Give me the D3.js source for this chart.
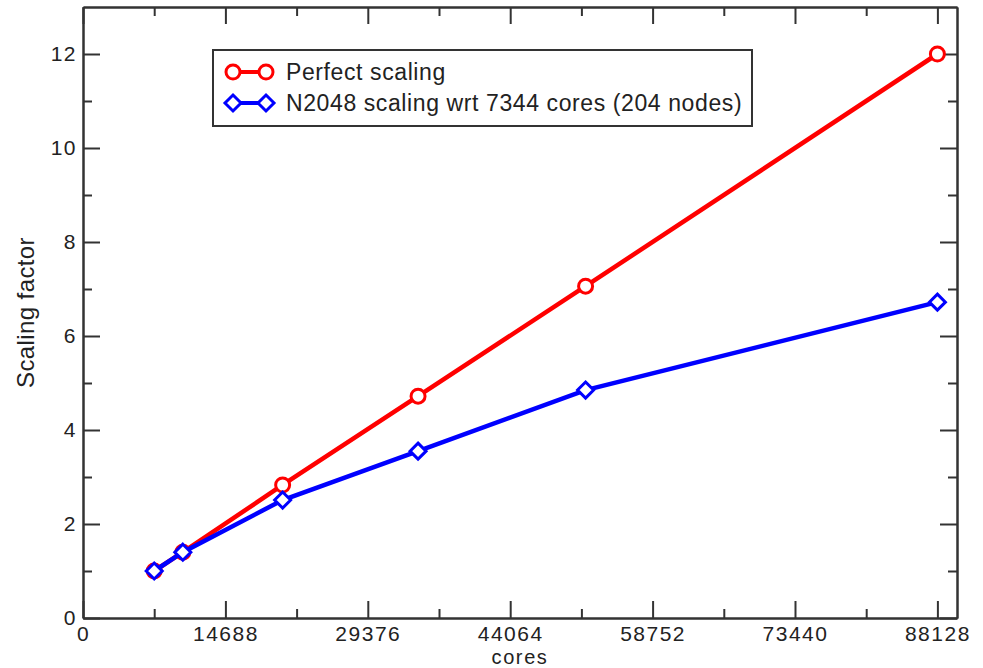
<!DOCTYPE html>
<html>
<head>
<meta charset="utf-8">
<script src="https://cdn.jsdelivr.net/npm/d3@7"></script>
<style>
  body { margin: 0; background: #fff; }
  svg { display: block; font-family: "Liberation Sans", Arial, sans-serif; }
  .axis path, .axis line { stroke: #333; stroke-width: 2px; }
  .axis text { font-size: 21px; letter-spacing: 1.5px; fill: #222; }
</style>
</head>
<body>
<svg id="chart" width="983" height="668"></svg>
<script>
// cores used in each run
var cores = [7344, 10296, 20592, 34560, 51840, 88128];
// ideal speed-up relative to 7344 cores
var perfect = [1, 1.4, 2.83, 4.72, 7.06, 12];
// measured speed-up of N2048
var measured = [1, 1.4, 2.51, 3.55, 4.85, 6.72];

var xMajor = [0, 14688, 29376, 44064, 58752, 73440, 88128];
var xMinor = [7344, 22032, 36720, 51408, 66096, 80784];
var yMajor = [0, 2, 4, 6, 8, 10, 12];
var yMinor = [1, 3, 5, 7, 9, 11];

var series = [
  { name: "Perfect scaling", values: perfect, color: "#ff0000", symbol: "circle" },
  { name: "N2048 scaling wrt 7344 cores (204 nodes)", values: measured, color: "#0000ff", symbol: "diamond" }
];

var svg = d3.select("#chart");
var margin = { left: 83, top: 7, right: 26, bottom: 50 };
var width = +svg.attr("width") - margin.left - margin.right;
var height = +svg.attr("height") - margin.top - margin.bottom;

var x = d3.scaleLinear().domain([0, 90150]).range([0, width]);
var y = d3.scaleLinear().domain([0, 13]).range([height, 0]);

var g = svg.append("g").attr("transform", "translate(" + margin.left + "," + margin.top + ")");

// minor ticks first, then major ticks (all pointing inward)
function addAxis(axis, tx, ty, hideText) {
  var a = g.append("g").attr("class", "axis")
    .attr("transform", "translate(" + tx + "," + ty + ")")
    .call(axis);
  if (hideText) a.selectAll("text").remove();
  return a;
}

addAxis(d3.axisBottom(x).tickValues(xMinor).tickSize(-9).tickSizeOuter(0).tickFormat(""), 0, height, true);
addAxis(d3.axisTop(x).tickValues(xMinor).tickSize(-9).tickSizeOuter(0).tickFormat(""), 0, 0, true);
addAxis(d3.axisLeft(y).tickValues(yMinor).tickSize(-9).tickSizeOuter(0).tickFormat(""), 0, 0, true);
addAxis(d3.axisRight(y).tickValues(yMinor).tickSize(-9).tickSizeOuter(0).tickFormat(""), width, 0, true);

addAxis(d3.axisBottom(x).tickValues(xMajor).tickSize(-17).tickSizeOuter(0).tickPadding(8).tickFormat(d3.format("d")), 0, height, false);
addAxis(d3.axisTop(x).tickValues(xMajor).tickSize(-17).tickSizeOuter(0).tickFormat(""), 0, 0, true);
addAxis(d3.axisLeft(y).tickValues(yMajor).tickSize(-17).tickSizeOuter(0).tickPadding(6).tickFormat(d3.format("d")), 0, 0, false);
addAxis(d3.axisRight(y).tickValues(yMajor).tickSize(-17).tickSizeOuter(0).tickFormat(""), width, 0, true);

// axis titles
svg.append("text")
  .attr("x", margin.left + width / 2)
  .attr("y", 663.6)
  .attr("text-anchor", "middle")
  .style("font-size", "20px")
  .style("letter-spacing", "1.6px")
  .style("fill", "#222")
  .text("cores");

svg.append("text")
  .attr("transform", "translate(34," + (margin.top + height / 2) + ") rotate(-90)")
  .attr("text-anchor", "middle")
  .style("font-size", "24px")
  .style("letter-spacing", "0.4px")
  .style("fill", "#222")
  .text("Scaling factor");

var line = d3.line()
  .x(function(d, i) { return x(cores[i]); })
  .y(function(d) { return y(d); });

function drawSymbol(sel, kind, color) {
  if (kind === "circle") {
    sel.append("circle").attr("r", 7)
      .attr("fill", "#fff").attr("stroke", color).attr("stroke-width", 3);
  } else {
    sel.append("path").attr("d", "M0,-8L8,0L0,8L-8,0Z")
      .attr("fill", "#fff").attr("stroke", color).attr("stroke-width", 3);
  }
}

series.forEach(function(s) {
  g.append("path")
    .datum(s.values)
    .attr("fill", "none")
    .attr("stroke", s.color)
    .attr("stroke-width", 4.5)
    .attr("d", line);

  g.selectAll(null)
    .data(s.values)
    .enter().append("g")
      .attr("transform", function(d, i) { return "translate(" + x(cores[i]) + "," + y(d) + ")"; })
      .each(function() { drawSymbol(d3.select(this), s.symbol, s.color); });
});

// legend
var legend = svg.append("g");
legend.append("rect")
  .attr("x", 213).attr("y", 50).attr("width", 539).attr("height", 76)
  .attr("fill", "#fff").attr("stroke", "#333").attr("stroke-width", 2);

series.forEach(function(s, i) {
  var ly = 72 + i * 31;
  legend.append("line")
    .attr("x1", 233).attr("x2", 266).attr("y1", ly).attr("y2", ly)
    .attr("stroke", s.color).attr("stroke-width", 4);
  [233, 266].forEach(function(px) {
    var m = legend.append("g").attr("transform", "translate(" + px + "," + ly + ")");
    drawSymbol(m, s.symbol, s.color);
  });
  legend.append("text")
    .attr("x", 286).attr("y", ly + 8)
    .style("font-size", "23px")
    .style("letter-spacing", "0.6px")
    .style("fill", "#222")
    .text(s.name);
});
</script>
</body>
</html>
